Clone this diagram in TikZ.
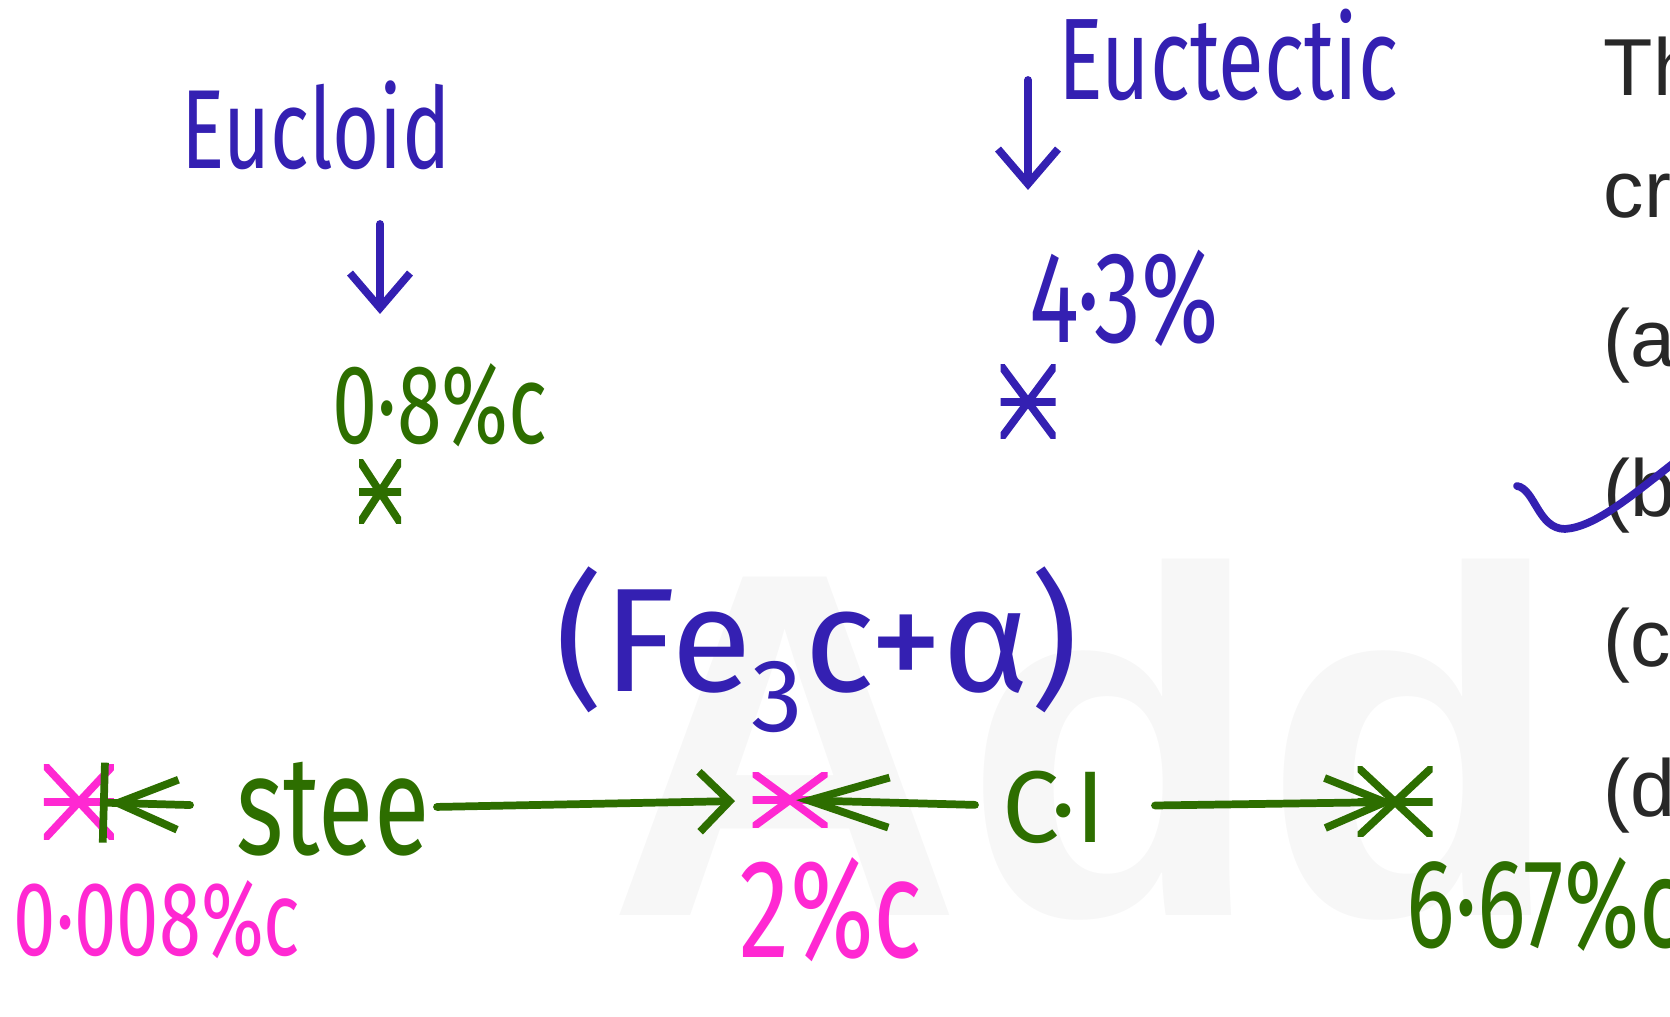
\documentclass[tikz,border=0pt]{standalone}
\usepackage{fontspec}
\usetikzlibrary{arrows.meta}
\newfontfamily\hand[FakeStretch=0.72]{Fira Sans}
\newfontfamily\handwide{Fira Sans}
\newfontfamily\printfont{Liberation Sans}
\definecolor{inkblue}{RGB}{52,32,178}
\definecolor{inkgreen}{RGB}{45,110,0}
\definecolor{inkpink}{RGB}{255,40,210}
\definecolor{printgray}{RGB}{40,40,40}
\begin{document}
\begin{tikzpicture}[
    ink/.style = {line width = 2.2pt, line cap = round, line join = round},
    handtxt/.style = {inner sep = 0pt, font = \hand\fontsize{#1}{#1}\selectfont},
    printtxt/.style = {inner sep = 0pt, text = printgray, font = \printfont\fontsize{23}{23}\selectfont},
    starmk/.style n args = {3}{inner sep = 0pt, minimum width = #1, minimum height = #2,
        path picture = {\draw[ink, #3] (path picture bounding box.north west) -- (path picture bounding box.south east)
            (path picture bounding box.north east) -- (path picture bounding box.south west)
            (path picture bounding box.west) -- (path picture bounding box.east);}},
    bluearr/.style = {ink, inkblue, -{Straight Barb[length = 3.5mm, width = 6mm]}},
    greenarr/.style 2 args = {ink, inkgreen, -{Straight Barb[length = #1, width = #2]}}
]
    \useasboundingbox (0, 0) rectangle (16.7, 10.17);
    \node[text = black!3, font = \printfont\bfseries\fontsize{140}{140}\selectfont] (mark) at (10.86, 2.77) {Add};

    \node[handtxt = 32, text = inkblue] (eucloid) at (3.16, 8.92) {Eucloid};
    \node[handtxt = 32, text = inkgreen] (eutval) at (4.40, 6.12) {0·8\%c};
    \node[starmk = {0.42cm}{0.64cm}{inkgreen}] (eustar) at (3.80, 5.25) {};
    \draw[bluearr, shorten < = 0.99cm, shorten > = 0.91cm] (eucloid.center -| eustar.center) -- (eutval.center -| eustar.center);

    \node[handtxt = 33, text = inkblue] (euctectic) at (12.28, 9.62) {Euctectic};
    \node[handtxt = 37, text = inkblue] (ectval) at (11.24, 7.19) {4·3\%};
    \node[starmk = {0.55cm}{0.74cm}{inkblue}] (ectstar) at (10.28, 6.15) {};
    \draw[bluearr, shorten < = 0.25cm, shorten > = 1.08cm] (euctectic.center -| ectstar.center) -- (ectval.center -| ectstar.center);

    \node[inner sep = 0pt, text = inkblue, font = \handwide\fontsize{42}{42}\selectfont] (phase) at (8.17, 3.67) {(Fe\textsubscript{3}c+α)};

    \node[starmk = {0.7cm}{0.75cm}{inkpink}] (pstar0) at (0.79, 2.15) {};
    \node[starmk = {0.75cm}{0.55cm}{inkpink}] (pstar1) at (7.90, 2.17) {};
    \node[starmk = {0.75cm}{0.7cm}{inkgreen}] (gstar) at (13.95, 2.15) {};
    \node[handtxt = 40, text = inkgreen] (steel) at (3.33, 2.08) {stee};
    \node[inner sep = 0pt, text = inkgreen, font = \handwide\fontsize{29}{29}\selectfont] (ci) at (10.54, 2.10) {C·I};
    \draw[ink, inkgreen, -{Straight Barb[length = 6mm, width = 5mm] Bar[width = 8mm]}, shorten < = 1.43cm, shorten > = 0.21cm] (steel.center) -- (pstar0.center);
    \draw[greenarr = {3mm}{6mm}, shorten < = 1.04cm, shorten > = 0.55cm] (steel.center) -- (pstar1.center);
    \draw[greenarr = {8mm}{5mm}, shorten < = 0.79cm, shorten > = 0.06cm] (ci.center) -- (pstar1.center);
    \draw[greenarr = {6mm}{5mm}, shorten < = 1.01cm] (ci.center) -- (gstar.center);

    \node[handtxt = 30, text = inkpink] (lowval) at (1.57, 0.97) {0·008\%c};
    \node[handtxt = 40, text = inkpink] (midval) at (8.31, 1.07) {2\%c};
    \node[handtxt = 36, text = inkgreen, anchor = west] (highval) at (14.06, 1.12) {6·67\%c};

    \node[printtxt, anchor = base west] (line1) at (16.03, 9.21) {Th};
    \node[printtxt, anchor = base west] (line2) at (16.03, 7.99) {cri};
    \foreach \lab/\y in {a/6.50, b/5.00, c/3.50, d/2.00}{
        \node[printtxt, anchor = base west] (opt\lab) at (16.03, \y) {(\lab)};
    }
    \draw[ink, inkblue] (15.17, 5.31) .. controls (15.35, 5.28) and (15.38, 4.88) .. (15.65, 4.88) .. controls (15.95, 4.90) and (16.30, 5.20) .. (16.75, 5.55);
\end{tikzpicture}
\end{document}
